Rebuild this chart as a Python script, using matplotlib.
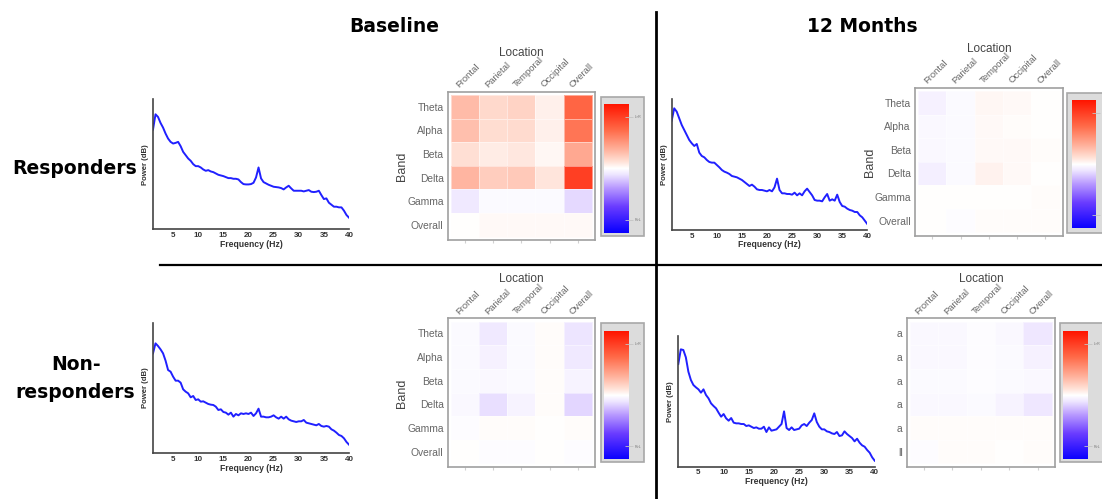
import matplotlib
matplotlib.use('Agg')
import matplotlib.pyplot as plt
from matplotlib.colors import LinearSegmentedColormap, Normalize
from matplotlib.cm import ScalarMappable
from matplotlib.patches import Rectangle
from matplotlib.lines import Line2D

W, H = 1102, 499

# frequency grid of the spectra (Hz)
freq = [1, 1.5, 2, 2.5, 3, 3.5, 4, 4.5, 5, 5.5, 6, 6.5, 7, 7.5, 8, 8.5, 9, 9.5,
        10, 10.5, 11, 11.5, 12, 12.5, 13, 13.5, 14, 14.5, 15, 15.5, 16, 16.5,
        17, 17.5, 18, 18.5, 19, 19.5, 20, 20.5, 21, 21.5, 22, 22.5, 23, 23.5,
        24, 24.5, 25, 25.5, 26, 26.5, 27, 27.5, 28, 28.5, 29, 29.5, 30, 30.5,
        31, 31.5, 32, 32.5, 33, 33.5, 34, 34.5, 35, 35.5, 36, 36.5, 37, 37.5,
        38, 38.5, 39, 39.5, 40]

# power (dB, arbitrary offset)
resp_base = [30.0, 34.6, 33.8, 32.0, 30.6, 28.8, 27.3, 26.3, 25.8, 26.0,
             26.3, 25.0, 23.3, 22.3, 21.3, 20.6, 19.6, 19.0, 19.0, 18.6,
             18.0, 17.6, 17.8, 17.4, 17.2, 16.8, 16.4, 16.2, 16.0, 15.7,
             15.4, 15.4, 15.2, 15.2, 15.0, 14.2, 13.6, 13.5, 13.5, 13.6,
             14.0, 15.6, 18.6, 15.3, 14.2, 13.8, 13.4, 13.1, 12.8, 12.7,
             12.6, 12.4, 12.0, 12.6, 13.1, 12.3, 11.6, 11.6, 11.6, 11.6,
             11.4, 11.6, 11.8, 11.3, 11.2, 11.3, 11.6, 10.3, 9.1, 9.3,
             8.0, 7.4, 6.8, 6.8, 6.6, 6.6, 5.6, 4.3, 3.5]
nonresp_base = [30.0, 33.0, 32.2, 31.2, 30.0, 27.8, 25.0, 24.5, 23.0, 21.8,
                21.8, 21.2, 19.2, 18.5, 18.0, 16.8, 17.2, 16.0, 16.2, 15.5,
                15.6, 15.2, 14.8, 14.6, 14.5, 14.0, 13.0, 13.2, 12.4, 12.2,
                11.6, 12.2, 11.0, 11.8, 11.4, 12.0, 11.8, 12.0, 11.8, 12.2,
                11.2, 12.0, 13.4, 11.0, 11.0, 10.8, 10.8, 11.0, 11.4, 10.8,
                10.4, 11.0, 10.4, 11.0, 10.2, 9.8, 9.6, 9.4, 9.6, 9.6,
                10.0, 9.2, 9.0, 8.8, 8.6, 8.4, 8.8, 8.2, 8.0, 8.2,
                8.0, 7.2, 6.8, 6.2, 5.5, 5.2, 4.5, 3.4, 2.6]
resp_12m = [32.8, 36.5, 35.5, 33.5, 31.5, 30.0, 28.5, 27.0, 26.0, 25.2,
            25.8, 23.2, 22.2, 21.8, 21.0, 20.4, 20.2, 20.2, 19.5, 18.8,
            18.0, 17.5, 17.2, 16.8, 16.2, 16.0, 15.8, 15.4, 15.0, 14.4,
            13.8, 13.2, 13.6, 13.0, 12.2, 12.0, 12.0, 11.8, 11.6, 12.0,
            11.6, 12.8, 15.4, 12.0, 11.0, 11.0, 10.8, 10.8, 10.6, 11.2,
            10.4, 11.0, 10.4, 11.6, 12.4, 11.4, 10.4, 9.0, 8.8, 8.8,
            8.6, 9.8, 10.8, 8.8, 9.2, 8.8, 10.6, 8.4, 7.2, 7.0,
            6.4, 6.0, 5.8, 5.4, 5.4, 4.4, 3.8, 2.8, 1.8]
nonresp_12m = [30.8, 35.2, 35.0, 32.8, 28.5, 26.0, 24.5, 23.8, 23.2, 22.2,
               23.2, 21.5, 20.5, 19.0, 18.2, 17.5, 16.2, 15.0, 15.8, 14.5,
               13.8, 14.6, 13.2, 13.0, 13.0, 12.8, 12.8, 12.2, 12.4, 12.0,
               11.6, 11.8, 11.4, 11.4, 12.0, 10.4, 11.8, 10.8, 11.0, 11.2,
               12.0, 12.8, 16.6, 11.6, 11.0, 11.8, 11.0, 11.2, 11.4, 12.4,
               12.8, 12.2, 13.2, 14.0, 16.0, 13.4, 12.0, 11.2, 11.2, 10.6,
               10.4, 10.0, 9.8, 10.4, 9.2, 9.4, 10.6, 9.8, 9.2, 8.6,
               7.6, 8.4, 7.2, 6.4, 6.0, 5.0, 4.2, 2.8, 1.8]
freq_ticks = [5, 10, 15, 20, 25, 30, 35, 40]

# heatmaps: rows = bands, columns = locations
bands = ['Theta', 'Alpha', 'Beta', 'Delta', 'Gamma', 'Overall']
bands_cut = ['a', 'a', 'a', 'a', 'a', 'll']
locations = ['Frontal', 'Parietal', 'Temporal', 'Occipital', 'Overall']
heat_resp_base = [[0.25, 0.14, 0.16, 0.05, 0.62],
                  [0.24, 0.12, 0.13, 0.05, 0.55],
                  [0.11, 0.07, 0.08, 0.03, 0.33],
                  [0.28, 0.18, 0.20, 0.09, 0.80],
                  [-0.08, -0.02, -0.02, -0.02, -0.13],
                  [0.0, 0.02, 0.02, 0.02, 0.02]]
heat_resp_12m = [[-0.05, -0.02, 0.03, 0.02, 0.0],
                 [-0.03, -0.02, 0.02, 0.01, 0.0],
                 [-0.03, -0.02, 0.02, 0.02, 0.01],
                 [-0.06, -0.02, 0.04, 0.02, 0.0],
                 [0.0, 0.0, 0.005, 0.0, 0.01],
                 [0.0, -0.01, 0.01, 0.01, 0.01]]
heat_nonresp_base = [[-0.02, -0.08, -0.02, 0.01, -0.10],
                     [-0.02, -0.05, -0.02, 0.01, -0.08],
                     [-0.02, -0.03, -0.02, 0.01, -0.04],
                     [-0.03, -0.11, -0.04, 0.01, -0.14],
                     [-0.01, 0.01, 0.01, 0.0, 0.01],
                     [0.0, -0.01, -0.01, 0.0, -0.01]]
heat_nonresp_12m = [[-0.03, -0.03, -0.01, -0.03, -0.09],
                    [-0.03, -0.03, -0.01, -0.02, -0.05],
                    [-0.02, -0.02, -0.01, -0.02, -0.03],
                    [-0.03, -0.03, -0.02, -0.04, -0.09],
                    [0.01, 0.01, 0.01, 0.01, 0.01],
                    [-0.01, 0.01, 0.01, 0.0, 0.01]]
cbar_ticks = [-0.8, 0.8]
cbar_labels = ['R>L', 'L>R']

cmap = LinearSegmentedColormap.from_list('lr', [
    (0.0, '#0a00ff'), (0.2, '#6a3cff'), (0.35, '#b99bff'), (0.45, '#ede4ff'),
    (0.5, '#ffffff'), (0.55, '#ffe2d8'), (0.65, '#ffb09a'), (0.8, '#ff6a48'),
    (1.0, '#ff1500')])
norm = Normalize(-1, 1)

fig = plt.figure(figsize=(W / 100, H / 100), dpi=100)
plt.rcParams['font.family'] = ['Liberation Sans', 'DejaVu Sans']


def rect(x0, y0, x1, y1):
    return [x0 / W, 1 - y1 / H, (x1 - x0) / W, (y1 - y0) / H]


def ftext(x, y, s, **kw):
    fig.text(x / W, 1 - y / H, s, **kw)


def spectrum(box, power):
    ax = fig.add_axes(rect(*box))
    ax.plot(freq, power, color='#2020ff', lw=1.4)
    ax.set_xlim(1, 40)
    ax.set_ylim(0, 39.2)
    ax.set_xticks(freq_ticks)
    ax.set_yticks([])
    ax.spines['top'].set_visible(False)
    ax.spines['right'].set_visible(False)
    for s in ['left', 'bottom']:
        ax.spines[s].set_color('#444444')
        ax.spines[s].set_linewidth(1.2)
    ax.tick_params(axis='x', length=0, pad=2, labelsize=5.8, colors='#333333')
    for t in ax.get_xticklabels():
        t.set_fontweight('bold')
    ax.set_xlabel('Frequency (Hz)', fontsize=6.2, fontweight='bold',
                  color='#333333', labelpad=0.5)
    ax.set_ylabel('Power (dB)', fontsize=5.6, fontweight='bold',
                  color='#333333', labelpad=3)


def heatmap(box, vals, ylabels):
    x0, y0, x1, y1 = box
    ax = fig.add_axes(rect(*box))
    ax.pcolormesh(vals, cmap=cmap, norm=norm,
                  edgecolors=(1, 1, 1, 0.45), linewidth=0.7)
    ax.set_xlim(-0.11, 5.11)
    ax.set_ylim(6.14, -0.14)
    for s in ax.spines.values():
        s.set_color('#a0a0a0')
        s.set_linewidth(1.2)
    ax.set_yticks([i + 0.5 for i in range(len(ylabels))], ylabels)
    ax.set_xticks([i + 0.5 for i in range(len(locations))], [])
    ax.tick_params(axis='y', length=0, pad=3, labelsize=7.4, labelcolor='#666666')
    ax.tick_params(axis='x', length=2, color='#d0d0d0', direction='out')
    for i, lab in enumerate(locations):
        ax.text(i + 0.36, 1.015, lab, transform=ax.get_xaxis_transform(),
                rotation=45, rotation_mode='anchor', ha='left', va='bottom',
                fontsize=6.8, color='#666666')
    ftext((x0 + x1) / 2, y0 - 39, 'Location', ha='center', va='center',
          fontsize=8.5, color='#444444')
    return ax


def colorbar(outer, inner, labels=True):
    ox0, oy0, ox1, oy1 = outer
    fig.add_artist(Rectangle((ox0 / W, 1 - oy1 / H), (ox1 - ox0) / W,
                             (oy1 - oy0) / H, transform=fig.transFigure,
                             facecolor='#dcdcdc', edgecolor='#a8a8a8', lw=1.2,
                             zorder=-1))
    cax = fig.add_axes(rect(*inner))
    cb = fig.colorbar(ScalarMappable(norm=norm, cmap=cmap), cax=cax)
    cb.outline.set_visible(False)
    cb.set_ticks(cbar_ticks, labels=cbar_labels if labels else ['', ''])
    cax.tick_params(direction='inout', length=6, width=0.6, color='#c4c4c4',
                    labelsize=2.6, labelcolor='#777777', pad=1)


# spectra
spectrum((153, 99, 349, 229.3), resp_base)
spectrum((153, 322.7, 349, 453.3), nonresp_base)
spectrum((671.7, 99.3, 867.3, 230), resp_12m)
spectrum((678.3, 336, 874.7, 466.7), nonresp_12m)

# heatmaps
heatmap((447.7, 91.7, 595, 240), heat_resp_base, bands)
heatmap((915, 87.7, 1062.7, 235.7), heat_resp_12m, bands)
heatmap((447.7, 318.3, 595, 466.7), heat_nonresp_base, bands)
heatmap((906.7, 318.3, 1055, 466.7), heat_nonresp_12m, bands_cut)

ftext(401.7, 166, 'Band', rotation=90, ha='center', va='center', fontsize=9, color='#444444')
ftext(869.5, 162, 'Band', rotation=90, ha='center', va='center', fontsize=9, color='#444444')
ftext(401.7, 393, 'Band', rotation=90, ha='center', va='center', fontsize=9, color='#444444')

# colorbars
colorbar((600.7, 96.7, 644.3, 236), (604, 104, 629, 232.5))
colorbar((1067, 93, 1112, 233), (1071.7, 100, 1096, 228.3), labels=False)
colorbar((600.7, 323.3, 644.3, 461.7), (604, 331, 629, 459))
colorbar((1060, 323.3, 1112, 461.7), (1063.3, 331, 1088.3, 459))

# grid lines between panels
fig.add_artist(Line2D([160 / W, 1], [1 - 264.5 / H] * 2, color='black',
                      lw=1.6, transform=fig.transFigure))
fig.add_artist(Line2D([655.5 / W] * 2, [1 - 12 / H, 0], color='black',
                      lw=2, transform=fig.transFigure))

# titles and row labels
head = dict(fontsize=13.5, fontweight='bold', family=['DejaVu Sans'],
            ha='center', va='center', color='black')
ftext(394, 26, 'Baseline', **head)
ftext(862, 26, '12 Months', **head)
ftext(75, 169, 'Responders', **head)
ftext(76, 364, 'Non-', **head)
ftext(75, 392, 'responders', **head)

fig.savefig('out.png', dpi=100)
